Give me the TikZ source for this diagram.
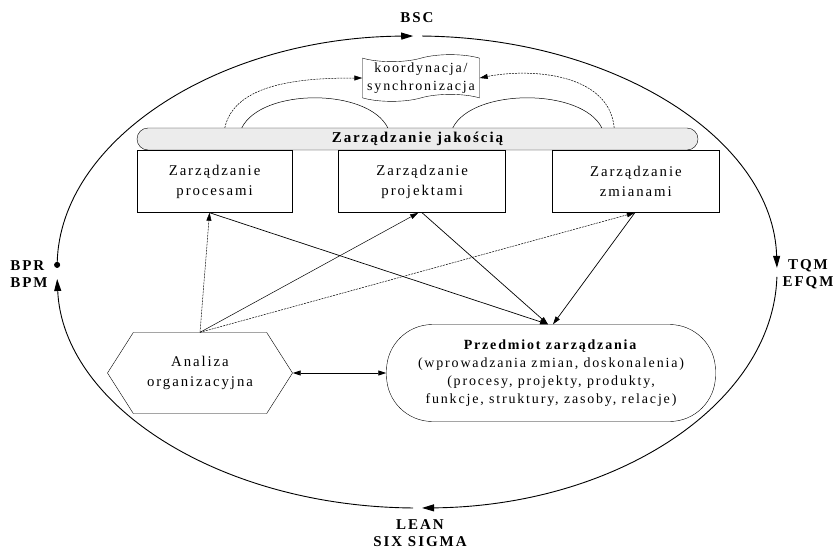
\documentclass[tikz,border=0pt]{standalone}
\usepackage{fontspec}
\setmainfont{Liberation Serif}[LetterSpace=13]
\usepackage{tikz}
\usetikzlibrary{arrows.meta,positioning,shapes.symbols,backgrounds}

\newcommand\diagfont{\fontsize{14}{18}\selectfont}
\newcommand\boxfont{\fontsize{14.8}{20}\selectfont}
\newcommand\lblfont{\fontsize{15}{17}\selectfont\bfseries}

\begin{document}
\begin{tikzpicture}[x=1pt, y=-1pt, >={Triangle[length=8pt,width=5pt]},
  font=\diagfont,
  box/.style={draw, line width=0.5pt, minimum height=62pt, align=center, font=\boxfont},
  cycle/.style={line width=0.9pt, -{Triangle[length=12pt,width=7pt]}},
  link/.style={->, line width=0.7pt},
  dlink/.style={->, line width=0.5pt, dash pattern=on 2pt off 1pt},
  lbl/.style={font=\lblfont, align=center}]
  \useasboundingbox (0,0) rectangle (833,552);

  % outer cycle of methods
  \coordinate (c) at (417,272);
  \draw[cycle, {Circle[length=6pt]}-{Triangle[length=12pt,width=7pt]}]
    (c) ++(181:360 and 236) arc[start angle=181, end angle=269.4, x radius=360, y radius=236];
  \draw[cycle] (c) ++(270.8:360 and 236) arc[start angle=270.8, end angle=359, x radius=360, y radius=236];
  \draw[cycle] (c) ++(1.2:360 and 236) arc[start angle=1.2, end angle=89.2, x radius=360, y radius=236];
  \draw[cycle] (c) ++(90.6:360 and 236) arc[start angle=90.6, end angle=178.3, x radius=360, y radius=236];

  \node[lbl] (bsc) at (417,18) {BSC};
  \node[lbl] (tqm) at (808,274) {TQM\\EFQM};
  \node[lbl, align=left] (bpr) at (29,274) {BPR\\BPM};
  \node[lbl] (lean) at (420,533) {LEAN\\SIX SIGMA};

  % quality management bar and the three areas
  \node[draw, fill=gray!15, rounded corners=11pt, minimum width=561pt,
        minimum height=22pt, font=\lblfont] (jakosc) at (417.5,139) {Zarządzanie jakością};
  \node[box, minimum width=155pt, below right=0pt of jakosc.south west] (procesy) {Zarządzanie\\procesami};
  \node[box, minimum width=167pt, line width=0.8pt, right=46pt of procesy] (projekty) {Zarządzanie\\projektami};
  \node[box, minimum width=167pt, right=46pt of projekty] (zmiany) {Zarządzanie\\zmianami};

  \node[draw, tape, tape bend height=7pt, minimum width=117pt, minimum height=43pt,
        align=center, inner sep=1pt] (koord) at (421,78) {koordynacja/\\synchronizacja};

  \node[draw, signal, signal to=east and west, signal pointer angle=115,
        minimum width=185pt, minimum height=81pt, align=center, font=\boxfont] (analiza) at (200,373) {Analiza\\organizacyjna};
  \node[draw, rounded corners=46pt, minimum width=329pt, minimum height=97pt,
        align=center] (przedmiot) at (551,373)
        {\textbf{Przedmiot zarządzania}\\(wprowadzania zmian, doskonalenia)\\(procesy, projekty, produkty,\\funkcje, struktury, zasoby, relacje)};

  % coordination arcs
  \draw[dlink] ([xshift=88pt]jakosc.north west) .. controls +(10,-45) and +(-60,0) .. (koord.west);
  \draw[dlink] ([xshift=-84pt]jakosc.north east) .. controls +(-5,-55) and +(50,-10) .. (koord.east);
  \draw[line width=0.5pt] ([xshift=105pt]jakosc.north west) .. controls +(20,-40) and +(-20,-40) .. ([xshift=251pt]jakosc.north west);
  \draw[line width=0.5pt] ([xshift=316pt]jakosc.north west) .. controls +(20,-40) and +(-20,-40) .. ([xshift=465pt]jakosc.north west);

  % links
  \draw[dlink] (analiza.north) -- ([xshift=-5pt]procesy.south);
  \draw[->, line width=0.5pt] (analiza.north) -- ([xshift=-4pt]projekty.south);
  \draw[dlink] (analiza.north) -- ([xshift=-1pt]zmiany.south);
  \draw[link] ([xshift=-5pt]procesy.south) -- ([xshift=-3pt]przedmiot.north);
  \draw[link] (projekty.south) -- ([xshift=-3pt]przedmiot.north);
  \draw[link] ([xshift=-1pt]zmiany.south) -- ([xshift=2pt]przedmiot.north);
  \draw[link, <->] (analiza.east) -- (przedmiot.west);
\end{tikzpicture}
\end{document}
